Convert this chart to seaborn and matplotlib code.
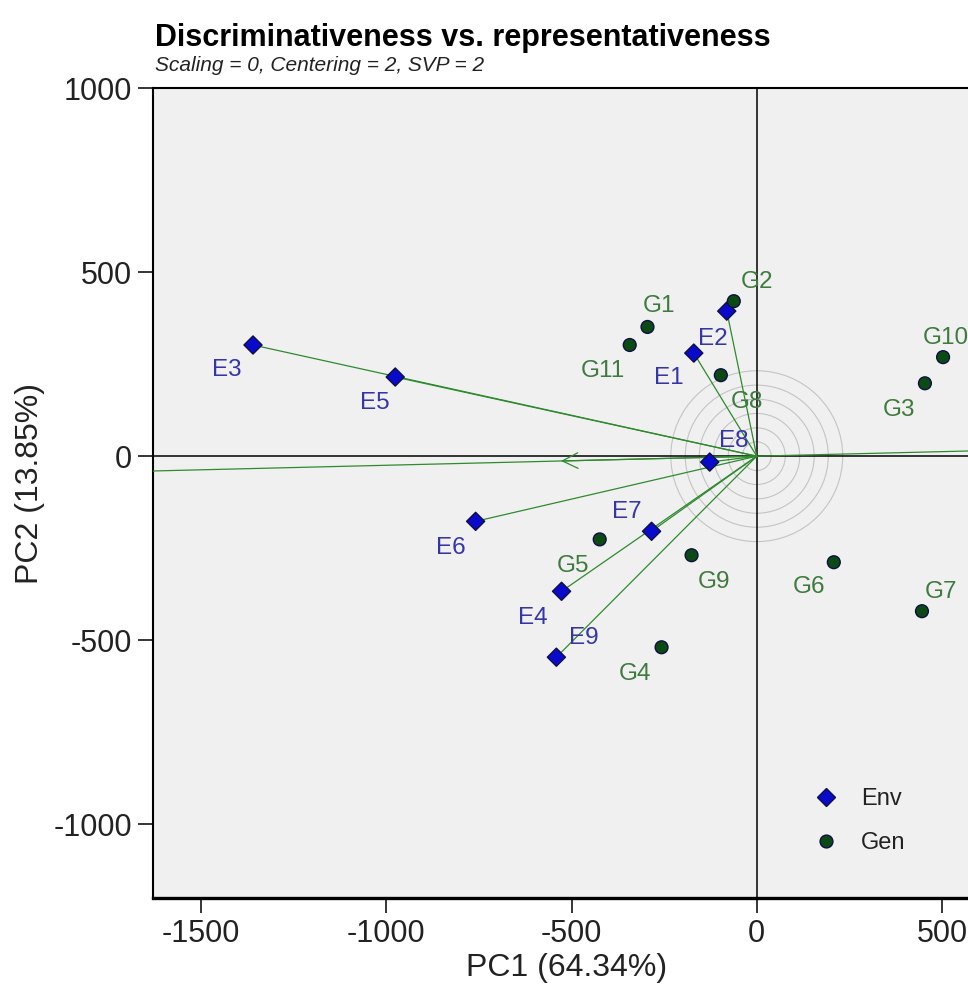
import numpy as np
import pandas as pd
import matplotlib
matplotlib.use("Agg")
import matplotlib.pyplot as plt
from matplotlib.patches import Circle
import seaborn as sns

# ------------------------------------------------------------------
# Data
# ------------------------------------------------------------------
env_names = ["E1", "E2", "E3", "E4", "E5", "E6", "E7", "E8", "E9"]
env_pc1 = [-170, -81, -1360, -527, -976, -759, -284, -127, -541]
env_pc2 = [280, 394, 302, -367, 215, -177, -204, -16, -546]

gen_names = ["G1", "G2", "G3", "G4", "G5", "G6", "G7", "G8", "G9", "G10", "G11"]
gen_pc1 = [-295, -62, 454, -257, -424, 208, 446, -97, -176, 503, -343]
gen_pc2 = [351, 421, 198, -519, -226, -288, -421, 220, -269, 269, 302]

circle_radii = [39, 77, 116, 155, 193, 232]
x_ticks = [-1500, -1000, -500, 0, 500]
y_ticks = [-1000, -500, 0, 500, 1000]

# label offsets in points (placement only)
label_offsets = {
    "E1": (-18, -18), "E2": (-10, -20), "E3": (-19, -18), "E4": (-21, -19),
    "E5": (-15, -19), "E6": (-18, -19), "E7": (-18, 14), "E8": (17, 15),
    "E9": (20, 14),
    "G1": (8, 15), "G2": (17, 14), "G3": (-19, -19), "G4": (-19, -19),
    "G5": (-19, -19), "G6": (-18, -18), "G7": (14, 14), "G8": (19, -19),
    "G9": (16, -19), "G10": (2, 14), "G11": (-19, -19),
}

df = pd.DataFrame({
    "name": env_names + gen_names,
    "PC1": env_pc1 + gen_pc1,
    "PC2": env_pc2 + gen_pc2,
    "type": ["Env"] * len(env_names) + ["Gen"] * len(gen_names),
})

# ------------------------------------------------------------------
# Style
# ------------------------------------------------------------------
sns.set_style("white")
plt.rcParams["font.family"] = ["Liberation Sans", "DejaVu Sans"]
plt.rcParams["axes.unicode_minus"] = False

GREEN = "#2F8A2F"
ENV_TXT = "#3535A8"
GEN_TXT = "#3F7A3F"

fig = plt.figure(figsize=(9.68, 9.92), dpi=100)
ax = fig.add_axes([153 / 968, 1 - 898 / 992, 826 / 968, 810 / 992])
ax.set_facecolor("#F0F0F0")
ax.set_xlim(-1630, 600)
ax.set_ylim(-1200, 1000)

# concentric circles around the origin
for r in circle_radii:
    ax.add_patch(Circle((0, 0), r, fill=False, ec="#C4C4C4", lw=0.8, zorder=1))

# zero lines
ax.axhline(0, color="black", lw=1.1, zorder=2)
ax.axvline(0, color="black", lw=1.1, zorder=2)

# environment vectors
for x, y in zip(env_pc1, env_pc2):
    ax.plot([0, x], [0, y], color=GREEN, lw=0.9, zorder=3)

# average environment axis
mx, my = np.mean(env_pc1), np.mean(env_pc2)
ax.axline((0, 0), (mx, my), color=GREEN, lw=0.9, zorder=3)
ax.annotate("", xy=(mx, my), xytext=(0, 0),
            arrowprops=dict(arrowstyle="->", color=GREEN, lw=0.9,
                            mutation_scale=28), zorder=3)

# points
sns.scatterplot(data=df, x="PC1", y="PC2", hue="type", style="type",
                markers={"Env": "D", "Gen": "o"},
                palette={"Env": "#0A0ACC", "Gen": "#0B4A14"},
                s=85, linewidth=1.0, edgecolor="#101040", ax=ax, zorder=4)

for name, x, y in zip(env_names, env_pc1, env_pc2):
    ax.annotate(name, (x, y), xytext=label_offsets[name], textcoords="offset points",
                ha="center", va="center", fontsize=17.5, color=ENV_TXT, zorder=5)
for name, x, y in zip(gen_names, gen_pc1, gen_pc2):
    ax.annotate(name, (x, y), xytext=label_offsets[name], textcoords="offset points",
                ha="center", va="center", fontsize=17.5, color=GEN_TXT, zorder=5)

# legend
handles, labels = ax.get_legend_handles_labels()
pairs = [(h, l) for h, l in zip(handles, labels) if l in ("Env", "Gen")]
ax.legend([p[0] for p in pairs], [p[1] for p in pairs],
          loc="upper left", bbox_to_anchor=(814 / 968, 1 - 788 / 992),
          bbox_transform=fig.transFigure, frameon=False, fontsize=17,
          handlelength=1.0, handletextpad=1.0, labelspacing=0.95,
          borderpad=0, borderaxespad=0, markerscale=1.0,
          labelcolor="#222222")

# axes, ticks
ax.set_xticks(x_ticks)
ax.set_yticks(y_ticks)
ax.tick_params(direction="out", length=11, width=1.1, labelsize=22,
               colors="black", labelcolor="#222222", pad=4,
               bottom=True, left=True)
for side in ["top", "left", "right"]:
    ax.spines[side].set_color("black")
    ax.spines[side].set_linewidth(1.5)
ax.spines["bottom"].set_color("black")
ax.spines["bottom"].set_linewidth(2.4)

ax.set_xlabel("PC1 (64.34%)", fontsize=23, color="#222222")
ax.set_ylabel("PC2 (13.85%)", fontsize=23, color="#222222")
ax.xaxis.set_label_coords(0.501, -(968 - 898) / 810)
ax.yaxis.set_label_coords((30 - 153) / 826, (898 - 483) / 810)
ax.xaxis.label.set_va("center")
ax.yaxis.label.set_va("center")

fig.text(155 / 968, 1 - 46 / 992, "Discriminativeness vs. representativeness",
         fontsize=22, fontweight="bold", ha="left", va="baseline", color="black")
fig.text(155 / 968, 1 - 71 / 992, "Scaling = 0, Centering = 2, SVP = 2",
         fontsize=15, style="italic", ha="left", va="baseline", color="#222222")

fig.savefig("out.png", dpi=100)
plt.close(fig)
